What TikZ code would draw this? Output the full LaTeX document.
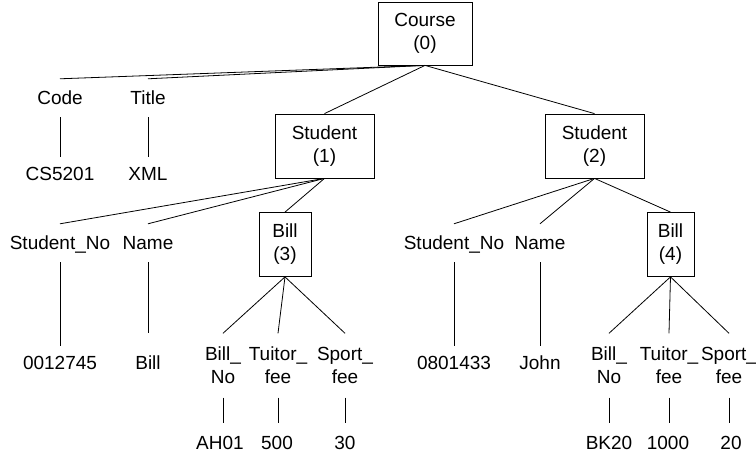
\documentclass[tikz,border=0pt]{standalone}
\usepackage{fontspec}
\setmainfont{Liberation Sans}
\begin{document}
\begin{tikzpicture}[x=1pt,y=-1pt,
  every node/.style={font=\fontsize{19}{23}\selectfont, inner sep=0pt, align=center},
  elem/.style={draw, line width=0.8pt},
  lbl/.style={minimum height=38pt, text height=13.6pt, text depth=0pt},
  val/.style={minimum height=34pt, text height=13.6pt, text depth=0pt},
  leaf/.style={text height=13.6pt, text depth=0pt},
  lbltwo/.style={minimum height=64pt},
  edge/.style={line width=0.8pt},
  leafedge/.style={edge, shorten >=13pt}]
\useasboundingbox (0,0) rectangle (756,454);

% element boxes
\node[elem, minimum width=94pt, minimum height=63pt] (course) at (425,33.5) {Course\\(0)};
\node[elem, minimum width=99pt, minimum height=64pt] (st1) at (324.5,146) {Student\\(1)};
\node[elem, minimum width=99pt, minimum height=64pt] (st2) at (594.5,146) {Student\\(2)};
\node[elem, minimum width=52pt, minimum height=64pt] (bill3) at (285,244.5) {Bill\\(3)};
\node[elem, minimum width=47pt, minimum height=64pt] (bill4) at (670.5,244.5) {Bill\\(4)};

% course attributes
\node[lbl] (code) at (60,98) {Code};
\node[lbl] (title) at (148,98) {Title};
\node[val] (codev) at (60,174) {CS5201};
\node[val] (titlev) at (148,174) {XML};

% student 1 attributes
\node[lbl] (sno1) at (60,243) {Student\_No};
\node[lbl] (name1) at (148,243) {Name};
\node[val] (sno1v) at (60,363) {0012745};
\node[val] (name1v) at (148,363) {Bill};
\node[lbltwo] (bno1) at (223,365.5) {Bill\_\\No};
\node[lbltwo] (tf1) at (278,365.5) {Tuitor\_\\fee};
\node[lbltwo] (sf1) at (345,365.5) {Sport\_\\fee};
\node[leaf] (bno1v) at (220,443) {AH01};
\node[leaf] (tf1v) at (277,443) {500};
\node[leaf] (sf1v) at (345,443) {30};

% student 2 attributes
\node[lbl] (sno2) at (454,243) {Student\_No};
\node[lbl] (name2) at (540,243) {Name};
\node[val] (sno2v) at (454,363) {0801433};
\node[val] (name2v) at (540,363) {John};
\node[lbltwo] (bno2) at (609,365.5) {Bill\_\\No};
\node[lbltwo] (tf2) at (669,365.5) {Tuitor\_\\fee};
\node[lbltwo] (sf2) at (729,365.5) {Sport\_\\fee};
\node[leaf] (bno2v) at (609,443) {BK20};
\node[leaf] (tf2v) at (668,443) {1000};
\node[leaf] (sf2v) at (731,443) {20};

% tree edges
\draw[edge] (course.south) -- (code.north);
\draw[edge] (course.south) -- (title.north);
\draw[edge] (course.south) -- (st1.north);
\draw[edge] (course.south) -- (st2.north);
\draw[edge] (code.south) -- (codev.north);
\draw[edge] (title.south) -- (titlev.north);

\draw[edge] (st1.south) -- (sno1.north);
\draw[edge] (st1.south) -- (name1.north);
\draw[edge] (st1.south) -- (bill3.north);
\draw[edge] (sno1.south) -- (sno1v.north);
\draw[edge, shorten >=13pt] (name1.south) -- (name1v.north);
\draw[edge] (bill3.south) -- (bno1.north);
\draw[edge] (bill3.south) -- (tf1.north);
\draw[edge] (bill3.south) -- (sf1.north);
\draw[leafedge] (bno1.south) -- (bno1.south |- bno1v.north);
\draw[leafedge] (tf1.south) -- (tf1.south |- tf1v.north);
\draw[leafedge] (sf1.south) -- (sf1v.north);

\draw[edge] (st2.south) -- (sno2.north);
\draw[edge] (st2.south) -- (name2.north);
\draw[edge] (st2.south) -- (bill4.north);
\draw[edge] (sno2.south) -- (sno2v.north);
\draw[edge] (name2.south) -- (name2v.north);
\draw[edge] (bill4.south) -- (bno2.north);
\draw[edge] (bill4.south) -- (tf2.north);
\draw[edge] (bill4.south) -- (sf2.north);
\draw[leafedge] (bno2.south) -- (bno2v.north);
\draw[leafedge] (tf2.south) -- (tf2.south |- tf2v.north);
\draw[leafedge] (sf2.south) -- (sf2.south |- sf2v.north);
\end{tikzpicture}
\end{document}
